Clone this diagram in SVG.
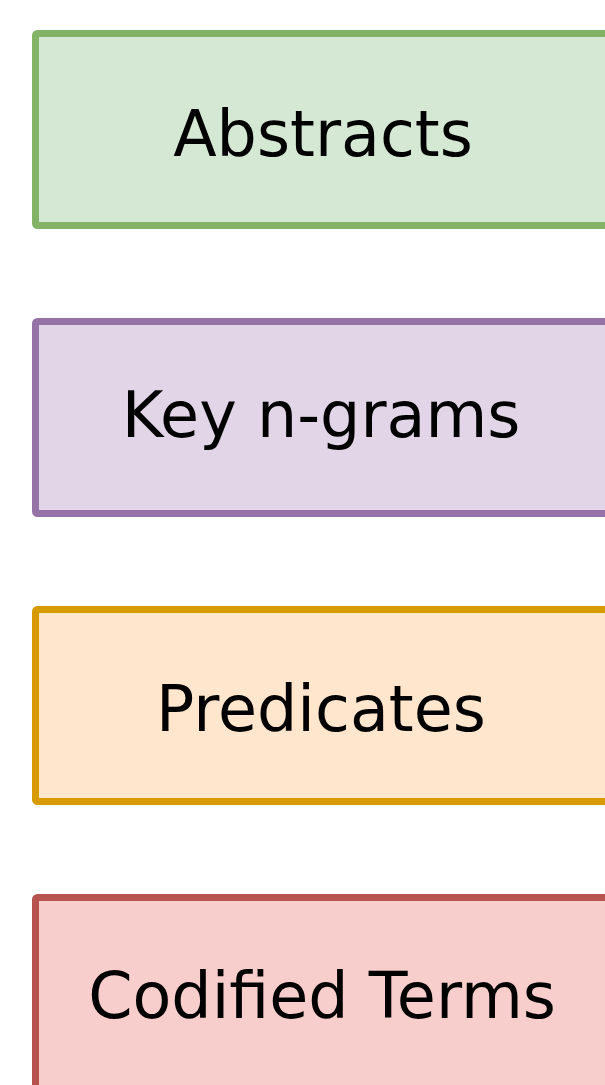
<svg xmlns="http://www.w3.org/2000/svg" width="605" height="1085" viewBox="0 0 605 1085">
<style>
.box{stroke-width:7}
.lbl{font-family:"DejaVu Sans",sans-serif;font-size:63.5px;fill:#000;text-anchor:middle}
</style>
<rect width="605" height="1085" fill="#ffffff"/>
<g id="abstracts"><rect class="box" x="35.5" y="33.5" width="620" height="192" rx="2" fill="#d5e8d4" stroke="#82b366"/><text class="lbl" x="323" y="156">Abstracts</text></g>
<g id="ngrams"><rect class="box" x="35.5" y="321.5" width="620" height="192" rx="2" fill="#e1d5e7" stroke="#9673a6"/><text class="lbl" x="321" y="437">Key n-grams</text></g>
<g id="predicates"><rect class="box" x="35.5" y="609.5" width="620" height="192" rx="2" fill="#ffe6cc" stroke="#d79b00"/><text class="lbl" x="321" y="731">Predicates</text></g>
<g id="codified"><rect class="box" x="35.5" y="897.5" width="620" height="192" rx="2" fill="#f8cecc" stroke="#b85450"/><text class="lbl" x="322" y="1018">Codified Terms</text></g>
<g id="connectors"></g>
</svg>
